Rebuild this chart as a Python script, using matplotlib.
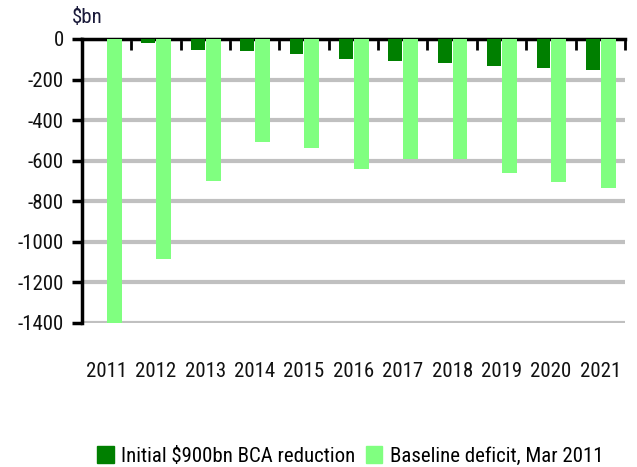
import matplotlib
matplotlib.use('Agg')

import numpy as np
import matplotlib.pyplot as plt
from matplotlib import font_manager
from matplotlib.patches import Patch

# Data ($bn)
years = ['2011', '2012', '2013', '2014', '2015', '2016',
         '2017', '2018', '2019', '2020', '2021']
bca_reduction = [0, -20, -53, -61, -74, -99, -110, -118, -133, -141, -154]
baseline_deficit = [-1400, -1085, -700, -509, -539, -640, -591, -591, -662, -706, -736]
y_ticks = [0, -200, -400, -600, -800, -1000, -1200, -1400]

dark_green = '#007f00'
light_green = '#80ff80'

# pick a narrow font if one is installed
names = {f.name for f in font_manager.fontManager.ttflist}
font, fs = 'Liberation Sans', 13
for cand in ['Liberation Sans Narrow', 'Arial Narrow', 'Roboto Condensed',
             'Open Sans Condensed', 'Noto Sans Condensed']:
    if cand in names:
        font, fs = cand, 15
        break
plt.rcParams['font.family'] = [font, 'DejaVu Sans']

fig = plt.figure(figsize=(6.37, 4.67), dpi=100)
ax = fig.add_axes([0.1283, 0.3084, 0.8529, 0.6081])

x = np.arange(len(years))
ax.bar(x - 0.01, bca_reduction, width=-0.28, align='edge', color=dark_green, zorder=3)
ax.bar(x + 0.01, baseline_deficit, width=0.30, align='edge', color=light_green, zorder=3)

ax.set_xlim(-0.5, len(years) - 0.5)
ax.set_ylim(-1400, 0)
ax.set_yticks(y_ticks)
ax.set_yticklabels([str(v) for v in y_ticks], fontsize=fs, color='#111111')
ax.yaxis.grid(True, color='#c0c0c0', linewidth=3, zorder=0)

# category labels far below the plot, boundary ticks on the zero line
ax.set_xticks(x)
ax.set_xticklabels(years, fontsize=fs, color='#111111')
ax.set_xticks(np.arange(len(years) + 1) - 0.5, minor=True)
ax.tick_params(axis='x', which='major', length=0, pad=28)
ax.tick_params(axis='x', which='minor', bottom=False, top=True,
               direction='in', length=8, width=2)
ax.tick_params(axis='y', direction='out', length=7, width=2.5, pad=6)

for s in ['right', 'bottom']:
    ax.spines[s].set_visible(False)
ax.spines['left'].set_linewidth(2.5)
ax.spines['top'].set_linewidth(2.5)
ax.set_axisbelow(True)

fig.text(72 / 637, 1 - 23 / 467, r'\$bn', fontsize=fs, color='#1a1a3a',
         ha='left', va='baseline')

handles = [Patch(color=dark_green, label=r'Initial \$900bn BCA reduction'),
           Patch(color=light_green, label='Baseline deficit, Mar 2011')]
fig.legend(handles=handles, loc='lower left', bbox_to_anchor=(97 / 637, 1 / 467),
           ncol=2, frameon=False, fontsize=fs, handlelength=0.8, handleheight=0.9,
           handletextpad=0.35, columnspacing=0.5, borderpad=0, borderaxespad=0)

fig.savefig('out.png', dpi=100)
